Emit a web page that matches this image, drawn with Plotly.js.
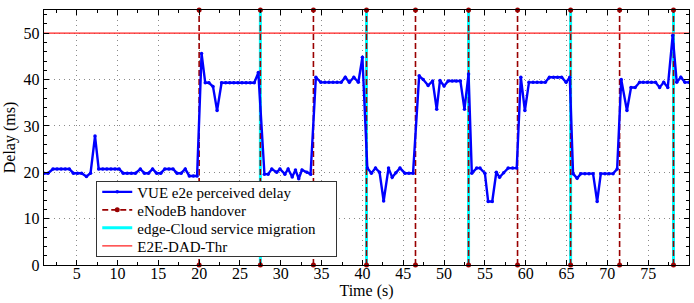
<!DOCTYPE html>
<html>
<head>
<meta charset="utf-8">
<script src="https://cdn.plot.ly/plotly-3.0.1.min.js"></script>
<style>html,body{margin:0;padding:0;background:#fff}#chart{width:694px;height:303px}</style>
</head>
<body>
<div id="chart"></div>
<script>
// Time (s) of each VUE delay sample
const delayTime = [
  1, 1.5, 2.1, 2.6, 3.1, 3.6, 4.1, 4.6, 5.1, 5.6, 6.2, 6.7, 7.25, 7.7, 8.2, 8.7, 9.2, 9.7, 10.2, 10.7,
  11.2, 11.7, 12.2, 12.8, 13.3, 13.8, 14.3, 14.8, 15.3, 15.8, 16.3, 16.8, 17.3, 17.8, 18.3, 18.8, 19.3, 19.75,
  20.3, 20.75, 21.2, 21.7, 22.2, 22.75, 23.25, 23.75, 24.25, 24.75, 25.25, 25.75, 26.25, 26.75, 27.25,
  28.0, 28.45, 28.9, 29.5, 29.9, 30.5, 30.9, 31.4, 31.8, 32.2, 32.6, 33.2, 33.65,
  34.3, 34.9, 35.4, 35.9, 36.4, 36.9, 37.4, 37.9, 38.4, 38.95, 39.5, 40.0,
  40.6, 41.1, 41.6, 42.1, 42.6, 43.2, 43.65, 44.1, 44.6, 45.2, 45.7, 46.2,
  46.95, 47.45, 48.05, 48.6, 49.1, 49.5, 50.0, 50.5, 51.0, 51.5, 52.0, 52.5, 53.0,
  53.4, 54.0, 54.4, 55.0, 55.4, 55.9, 56.4, 56.8, 57.3, 57.85, 58.4, 58.9,
  59.4, 59.9, 60.4, 60.9, 61.4, 61.9, 62.4, 62.9, 63.4, 63.9, 64.4, 64.95, 65.4,
  65.8, 66.3, 66.75, 67.25, 67.75, 68.25, 68.75, 69.2, 69.7, 70.2, 70.7, 71.2,
  71.7, 72.4, 72.9, 73.4, 73.95, 74.4, 74.9, 75.4, 75.9, 76.4, 76.9, 77.4, 78.0, 78.5, 79.0, 79.5, 80.0
];
// VUE e2e perceived delay (ms)
const delayMs = [
  19.8, 19.8, 20.7, 20.7, 20.7, 20.7, 20.7, 19.8, 19.8, 19.8, 19.1, 19.8, 27.8, 20.7, 20.7, 20.7, 20.7, 20.7, 20.7, 19.8,
  19.8, 19.8, 19.8, 20.7, 19.8, 19.8, 20.7, 19.8, 19.8, 20.7, 20.7, 20.7, 19.8, 19.8, 20.7, 19.2, 19.2, 19.2,
  45.6, 39.3, 39.3, 38.5, 33.3, 39.3, 39.3, 39.3, 39.3, 39.3, 39.3, 39.3, 39.3, 39.3, 41.5,
  19.6, 19.6, 20.7, 20.0, 20.7, 19.6, 20.7, 19.0, 20.5, 18.6, 20.5, 20.0, 19.6,
  40.5, 39.4, 39.4, 39.4, 39.4, 39.4, 39.4, 40.5, 39.4, 40.5, 39.4, 44.8,
  20.9, 19.8, 20.9, 20.0, 13.8, 20.9, 18.9, 19.9, 20.9, 19.8, 19.8, 19.8,
  40.8, 40.0, 38.7, 39.7, 33.6, 39.8, 38.6, 39.7, 39.7, 39.7, 39.7, 33.6, 41.2,
  19.8, 20.9, 20.9, 19.8, 13.7, 13.7, 20.0, 18.9, 19.9, 20.9, 20.9, 20.9,
  40.5, 33.3, 39.4, 39.4, 39.4, 39.4, 39.4, 40.5, 40.5, 40.5, 40.5, 39.4, 40.5,
  19.7, 18.7, 19.7, 19.7, 19.7, 19.7, 13.7, 19.7, 19.7, 19.7, 19.7, 20.7,
  40.0, 33.3, 38.3, 38.3, 39.4, 39.4, 39.4, 39.4, 39.4, 38.3, 39.4, 38.3, 49.5, 39.4, 40.5, 39.4, 39.4
];
// eNodeB handover instants (s)
const handoverTimes = [20, 27.5, 34, 40.5, 46.5, 53, 59, 65.5, 71.5, 78.1];
// edge-Cloud service migration instants (s)
const migrationTimes = [27.5, 40.5, 53, 65.5, 78.1];
// E2E-DAD threshold (ms)
const thresholdMs = 50;
const xRange = [1, 80];
const yRange = [0, 55];
const xTickVals = [5, 10, 15, 20, 25, 30, 35, 40, 45, 50, 55, 60, 65, 70, 75, 80];
const yTickVals = [0, 10, 20, 30, 40, 50];

function vlines(times) {
  const xs = [], ys = [];
  times.forEach(t => { xs.push(t, t, null); ys.push(yRange[0], yRange[1], null); });
  return {xs, ys};
}
const hv = vlines(handoverTimes);
const mv = vlines(migrationTimes);

const traces = [
  {
    x: mv.xs, y: mv.ys, type: 'scatter', mode: 'lines', name: 'edge-Cloud service migration',
    line: {color: '#00FFFF', width: 3}, legendrank: 3, hoverinfo: 'skip'
  },
  {
    x: hv.xs, y: hv.ys, type: 'scatter', mode: 'lines+markers', name: 'eNodeB handover',
    line: {color: '#990000', width: 1.6, dash: '6px,3px'},
    marker: {color: '#990000', size: 5}, cliponaxis: false, legendrank: 2, hoverinfo: 'skip'
  },
  {
    x: xRange, y: [thresholdMs, thresholdMs], type: 'scatter', mode: 'lines', name: 'E2E-DAD-Thr',
    line: {color: '#ff2020', width: 1.2}, legendrank: 4
  },
  {
    x: delayTime, y: delayMs, type: 'scatter', mode: 'lines+markers', name: 'VUE e2e perceived delay',
    line: {color: '#0000FF', width: 2.4}, marker: {color: '#0000FF', size: 3.5}, legendrank: 1
  }
];

const axisCommon = {
  showline: true, linecolor: '#000', linewidth: 1.3, mirror: 'allticks',
  ticks: 'inside', ticklen: 5, tickcolor: '#000', tickwidth: 1,
  showgrid: true, gridcolor: '#8a8a8a', griddash: '1px,4px', gridwidth: 1,
  zeroline: false, tickfont: {size: 16, color: '#000'}
};

const layout = {
  width: 694, height: 303,
  margin: {l: 44, r: 5, t: 10, b: 38},
  paper_bgcolor: '#fff', plot_bgcolor: '#fff',
  font: {family: '"Liberation Serif", "DejaVu Serif", serif', color: '#000'},
  showlegend: true,
  legend: {
    x: 0.081, y: 0.33, xanchor: 'left', yanchor: 'top',
    bgcolor: '#fff', bordercolor: '#333', borderwidth: 1,
    font: {size: 15, color: '#000'}, tracegroupgap: 0, itemwidth: 30
  },
  xaxis: Object.assign({}, axisCommon, {
    range: xRange, tickmode: 'array', tickvals: xTickVals, ticklabelstandoff: -7,
    minor: {dtick: 2.5, tick0: 0, ticks: 'inside', ticklen: 3, tickcolor: '#000', showgrid: false},
    title: {text: 'Time (s)', font: {size: 16}, standoff: 4}
  }),
  yaxis: Object.assign({}, axisCommon, {
    range: yRange, tickmode: 'array', tickvals: yTickVals,
    minor: {dtick: 2, tick0: 0, ticks: 'inside', ticklen: 3, tickcolor: '#000', showgrid: false},
    title: {text: 'Delay (ms)', font: {size: 16}, standoff: 4}
  })
};

Plotly.newPlot('chart', traces, layout, {displayModeBar: false, staticPlot: true}).then(gd => {
  // compress legend row spacing to match the reference
  const rows = gd.querySelectorAll('.legend .traces');
  const step = 18;
  rows.forEach((r, i) => {
    r.setAttribute('transform', 'translate(1,' + (11 + i * step) + ')');
  });
  const bg = gd.querySelector('.legend .bg');
  if (bg) { bg.setAttribute('height', 75); bg.setAttribute('width', 240); }
});
</script>
</body>
</html>
